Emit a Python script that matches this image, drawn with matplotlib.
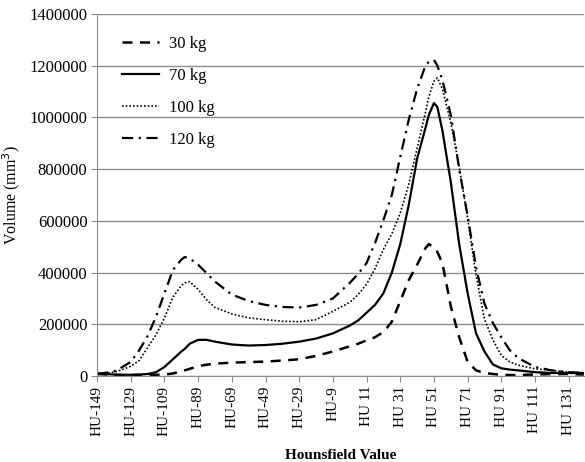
import matplotlib
matplotlib.use('Agg')
import matplotlib.pyplot as plt

plt.rcParams['font.family'] = ['Liberation Serif', 'DejaVu Serif']

# Hounsfield values at which the curves were read
hu = [-149, -139, -134, -129, -124, -119, -114, -109, -104, -99, -97, -94,
      -89, -84, -79, -69, -59, -49, -39, -29, -19, -9, 1, 6, 11, 16, 21,
      26, 31, 36, 41, 46, 48, 51, 53, 56, 61, 66, 71, 76, 81, 86, 91, 96,
      101, 111, 121, 131, 140]

# Volume (mm^3) per weight class
vol_30 = [8e3, 5e3, 4e3, 4e3, 4e3, 4e3, 5e3, 6e3, 10e3, 18e3, 22e3, 28e3,
          38e3, 44e3, 48e3, 52e3, 54e3, 56e3, 60e3, 65e3, 78e3, 95e3, 115e3,
          125e3, 138e3, 150e3, 170e3, 210e3, 290e3, 370e3, 430e3, 495e3,
          510e3, 497e3, 480e3, 437e3, 270e3, 150e3, 55e3, 22e3, 12e3, 8e3,
          5e3, 4e3, 4e3, 6e3, 8e3, 8e3, 6e3]
vol_70 = [10e3, 6e3, 5e3, 5e3, 6e3, 8e3, 15e3, 35e3, 65e3, 95e3, 105e3,
          125e3, 140e3, 140e3, 133e3, 122e3, 118e3, 120e3, 125e3, 133e3,
          145e3, 165e3, 195e3, 215e3, 245e3, 275e3, 320e3, 400e3, 510e3,
          660e3, 840e3, 960e3, 1010e3, 1055e3, 1040e3, 950e3, 750e3, 510e3,
          320e3, 165e3, 95e3, 45e3, 30e3, 25e3, 22e3, 15e3, 12e3, 12e3, 12e3]
vol_100 = [8e3, 15e3, 25e3, 38e3, 60e3, 110e3, 160e3, 225e3, 305e3, 350e3,
           360e3, 365e3, 335e3, 295e3, 265e3, 240e3, 225e3, 218e3, 212e3,
           210e3, 218e3, 250e3, 285e3, 315e3, 355e3, 415e3, 490e3, 550e3,
           630e3, 740e3, 880e3, 1020e3, 1080e3, 1140e3, 1153e3, 1110e3,
           980e3, 810e3, 610e3, 390e3, 220e3, 140e3, 80e3, 55e3, 42e3, 28e3,
           22e3, 15e3, 12e3]
vol_120 = [8e3, 18e3, 35e3, 55e3, 100e3, 155e3, 230e3, 320e3, 410e3, 450e3,
           460e3, 455e3, 430e3, 398e3, 365e3, 315e3, 290e3, 275e3, 267e3,
           265e3, 275e3, 300e3, 360e3, 395e3, 437e3, 514e3, 603e3, 700e3,
           847e3, 990e3, 1110e3, 1200e3, 1215e3, 1222e3, 1200e3, 1145e3,
           1010e3, 800e3, 620e3, 420e3, 280e3, 205e3, 150e3, 100e3, 70e3,
           35e3, 22e3, 15e3, 12e3]

tick_hu = list(range(-149, 140, 20))
tick_labels = [f'HU{v}' if v < 0 else f'HU {v}' for v in tick_hu]

fig = plt.figure(figsize=(5.85, 4.62), dpi=100)
ax = fig.add_axes([0.166, 0.186, 0.832, 0.784])

ax.plot(hu, vol_30, color='black', linestyle=(0, (4, 3)), linewidth=1.8, label='30 kg')
ax.plot(hu, vol_70, color='black', linestyle='-', linewidth=1.6, label='70 kg')
ax.plot(hu, vol_100, color='black', linestyle=(0, (1, 1.2)), linewidth=1.2, label='100 kg')
ax.plot(hu, vol_120, color='black', linestyle=(0, (5, 2.5, 1, 2.5)), linewidth=1.6, label='120 kg')

ax.set_xlim(-149, 140)
ax.set_ylim(0, 1400000)
ax.set_yticks(range(0, 1400001, 200000))
ax.set_yticklabels([str(v) for v in range(0, 1400001, 200000)], fontsize=12)
ax.set_xticks(tick_hu)
ax.set_xticklabels(tick_labels, rotation=90, fontsize=11)

ax.grid(axis='y', color='#8c8c8c', linewidth=1)
ax.set_axisbelow(True)
for s in ['top', 'right']:
    ax.spines[s].set_visible(False)
for s in ['left', 'bottom']:
    ax.spines[s].set_color('#8c8c8c')
ax.tick_params(axis='both', color='#8c8c8c', length=4, pad=3)

ax.set_xlabel('Hounsfield Value', fontweight='bold', fontsize=11)
ax.xaxis.set_label_coords(0.5, -0.2)
ax.set_ylabel('Volume (mm$^3$)', fontsize=11.5)
ax.yaxis.set_label_coords(-0.155, 0.5)

ax.legend(loc='upper left', bbox_to_anchor=(0.02, 0.98), frameon=False,
          fontsize=12, handlelength=2.2, labelspacing=0.95, handletextpad=0.6)

fig.savefig('out.png', dpi=100)
